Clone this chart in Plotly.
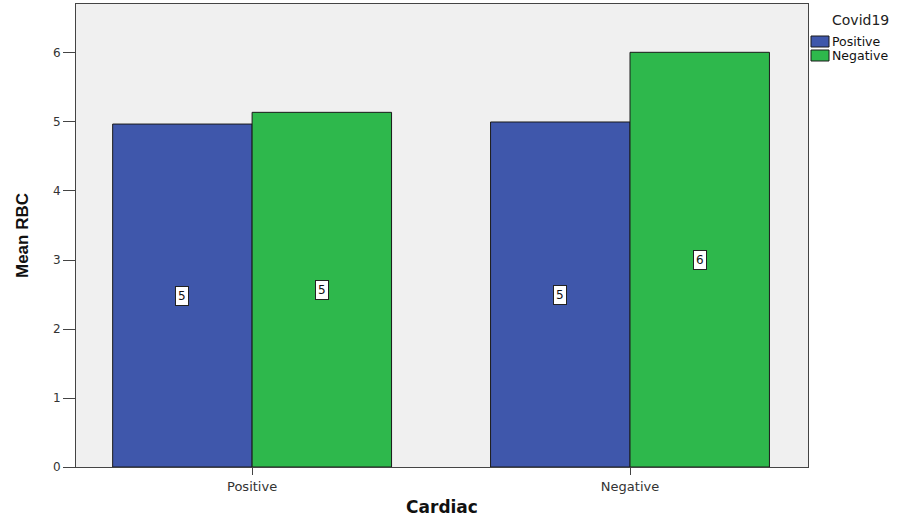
import plotly.graph_objects as go

categories = ["Positive", "Negative"]
series_names = ["Positive", "Negative"]
positive_vals = [4.97, 5.00]
negative_vals = [5.14, 6.01]
colors = ["#3F57AB", "#2EB84C"]
legend_title = "Covid19"

W, H = 910, 520
ML, MR, MT, MB = 76, 102, 4, 53
PW, PH = W - ML - MR, H - MT - MB

def px_x(px):
    return (px - ML) / PW

def px_y(py):
    return (H - MB - py) / PH

bargap = 0.262
fig = go.Figure()
for name, vals, col in zip(series_names, [positive_vals, negative_vals], colors):
    fig.add_trace(go.Bar(
        x=categories, y=vals, name=name, showlegend=False,
        marker=dict(color=col, line=dict(color="#1a1a1a", width=1)),
    ))

half = (1 - bargap) / 4
for si, vals in enumerate([positive_vals, negative_vals]):
    for ci, v in enumerate(vals):
        fig.add_annotation(
            x=ci + (-half if si == 0 else half), y=v / 2, xref="x", yref="y",
            text=str(int(round(v))), showarrow=False,
            font=dict(family="DejaVu Sans", size=12, color="#111"),
            bgcolor="white", bordercolor="#222", borderwidth=1, borderpad=2,
        )

# custom legend
fig.add_annotation(x=px_x(860), y=px_y(20), xref="paper", yref="paper",
                   text=legend_title, showarrow=False, xanchor="center", yanchor="middle",
                   font=dict(family="DejaVu Sans", size=14, color="#222"))
for i, (name, col) in enumerate(zip(series_names, colors)):
    y0, y1 = 36 + i * 14, 47 + i * 14
    fig.add_shape(type="rect", xref="paper", yref="paper",
                  x0=px_x(811), x1=px_x(829), y0=px_y(y1), y1=px_y(y0),
                  fillcolor=col, line=dict(color="#1a1a1a", width=1))
    fig.add_annotation(x=px_x(831), y=px_y((y0 + y1) / 2), xref="paper", yref="paper",
                       text=name, showarrow=False, xanchor="left", yanchor="middle",
                       font=dict(family="DejaVu Sans", size=12.5, color="#111"),
                       borderpad=0)

fig.update_layout(
    width=W, height=H,
    margin=dict(l=ML, r=MR, t=MT, b=MB),
    paper_bgcolor="white", plot_bgcolor="#F0F0F0",
    barmode="group", bargap=bargap, bargroupgap=0,
    font=dict(family="DejaVu Sans", size=12, color="#333"),
    showlegend=False,
)
fig.update_xaxes(
    range=[-0.466, 1.471], showline=True, linecolor="#444", linewidth=1, mirror=True,
    ticks="outside", ticklen=7, tickcolor="#444", showgrid=False,
    tickfont=dict(family="DejaVu Sans", size=13, color="#333"),
    title=dict(text="<b>Cardiac</b>", font=dict(family="DejaVu Sans", size=17, color="#111"), standoff=8),
)
fig.update_yaxes(
    range=[0, 6.71], showline=True, linecolor="#444", linewidth=1, mirror=True,
    ticks="outside", ticklen=12, tickcolor="#444", showgrid=False, zeroline=False,
    tickvals=[0, 1, 2, 3, 4, 5, 6], tickfont=dict(family="DejaVu Sans", size=12, color="#333"),
    title=dict(text="<b>Mean RBC</b>", font=dict(family="Liberation Sans", size=17, color="#111"), standoff=20),
)

fig.write_html("out.html", config={"displayModeBar": False},
               post_script="document.body.style.margin='0';document.body.style.padding='0';")
